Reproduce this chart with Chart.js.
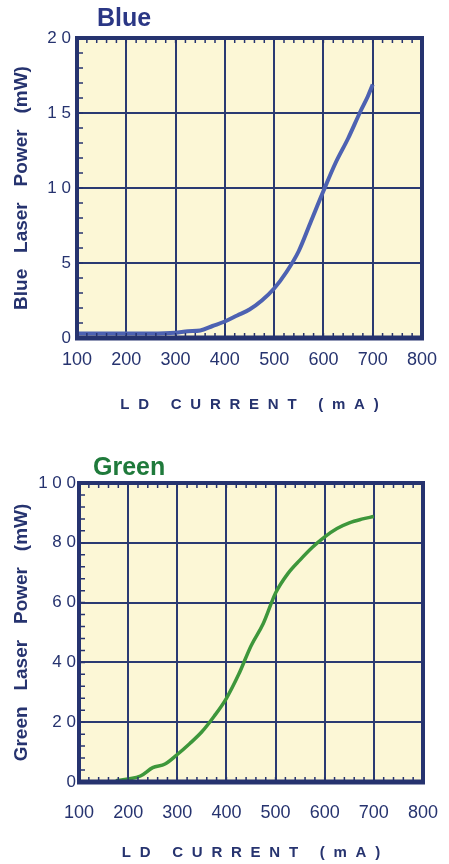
<!DOCTYPE html>
<html>
<head>
<meta charset="utf-8">
<script src="https://cdn.jsdelivr.net/npm/chart.js@4.4.0/dist/chart.umd.min.js"></script>
<style>
  html, body { margin: 0; padding: 0; background: #fff; }
  body { width: 449px; height: 864px; position: relative; overflow: hidden; }
  .panel { position: absolute; left: 0; width: 449px; }
</style>
</head>
<body>
<div class="panel" style="top:0;height:430px"><canvas id="blue" width="449" height="430"></canvas></div>
<div class="panel" style="top:440px;height:424px"><canvas id="green" width="449" height="424"></canvas></div>
<script>
// LD current (mA) vs laser power (mW)
const currentTicks = [100, 200, 300, 400, 500, 600, 700, 800];

const blueCurrent = [100, 150, 200, 250, 300, 325, 350, 375, 400, 425, 450, 475, 500, 525, 550, 575, 600, 625, 650, 675, 690, 700];
const bluePower = [0.3, 0.3, 0.3, 0.3, 0.35, 0.45, 0.5, 0.8, 1.1, 1.5, 1.9, 2.5, 3.3, 4.4, 5.8, 7.8, 9.8, 11.7, 13.3, 15.1, 16.1, 16.9];
const blueTicks = [0, 5, 10, 15, 20];

const greenCurrent = [175, 200, 225, 250, 275, 300, 325, 350, 375, 400, 425, 450, 475, 500, 525, 550, 575, 600, 625, 650, 675, 700];
const greenPower = [0.4, 1, 2, 4.8, 6, 9.2, 12.8, 16.8, 22, 28, 36, 45.5, 53, 63.2, 69.7, 74.3, 78.5, 82, 84.8, 86.7, 87.9, 88.8];
const greenTicks = [0, 20, 40, 60, 80, 100];

const NAVY = '#26336f';
const GRID = '#2a3a72';
const PAPER = '#fcf7d6';
const FONT = "'Liberation Sans', Arial, Helvetica, sans-serif";

Chart.defaults.font.family = FONT;
Chart.defaults.color = NAVY;

const spaced = (s) => String(s).split('').join(' ');

const frame = {
  id: 'frame',
  beforeDraw(chart, args, opts) {
    const { ctx, chartArea: a } = chart;
    ctx.save();
    ctx.fillStyle = PAPER;
    ctx.fillRect(a.left, a.top, a.width, a.height);
    ctx.restore();
  },
  afterDraw(chart, args, opts) {
    const { ctx, chartArea: a, scales } = chart;
    ctx.save();
    ctx.strokeStyle = NAVY;
    ctx.lineWidth = 1.5;
    ctx.beginPath();
    for (let v = currentTicks[0]; v <= currentTicks[currentTicks.length - 1]; v += 20) {
      const px = scales.x.getPixelForValue(v);
      ctx.moveTo(px, a.top);
      ctx.lineTo(px, a.top + 5);
      ctx.moveTo(px, a.bottom);
      ctx.lineTo(px, a.bottom - 5);
    }
    for (let v = scales.y.min; v <= scales.y.max; v += opts.minorY) {
      const py = scales.y.getPixelForValue(v);
      ctx.moveTo(a.left, py);
      ctx.lineTo(a.left + 6, py);
    }
    ctx.stroke();

    ctx.lineWidth = 4;
    ctx.strokeRect(a.left, a.top, a.width, a.height);
    ctx.lineWidth = 5;
    ctx.beginPath();
    ctx.moveTo(a.left - 2, a.bottom);
    ctx.lineTo(a.right + 2, a.bottom);
    ctx.stroke();

    ctx.font = 'bold 25px ' + FONT;
    ctx.fillStyle = opts.titleColor;
    ctx.textBaseline = 'alphabetic';
    ctx.fillText(opts.title, a.left + opts.titleDx, opts.titleY);
    ctx.restore();
  },
};

function makeChart(id, cfg) {
  const points = cfg.current.map((x, i) => ({ x, y: cfg.power[i] }));
  return new Chart(document.getElementById(id), {
    type: 'line',
    data: {
      datasets: [{
        data: points,
        borderColor: cfg.lineColor,
        borderWidth: cfg.lineWidth,
        pointRadius: 0,
        cubicInterpolationMode: 'monotone',
        fill: false,
      }],
    },
    options: {
      responsive: false,
      animation: false,
      layout: { padding: cfg.padding },
      plugins: {
        legend: { display: false },
        tooltip: { enabled: false },
        frame: {
          title: cfg.title,
          titleColor: cfg.titleColor,
          titleDx: cfg.titleDx,
          titleY: cfg.titleY,
          minorY: cfg.minorY,
        },
      },
      scales: {
        x: {
          type: 'linear',
          min: currentTicks[0],
          max: currentTicks[currentTicks.length - 1],
          afterBuildTicks: (scale) => { scale.ticks = currentTicks.map((value) => ({ value })); },
          afterFit: (scale) => { scale.height = cfg.xHeight; },
          // invisible tick marks just push the labels down
          grid: { color: GRID, lineWidth: 2, drawTicks: true, tickLength: cfg.xTickLen, tickColor: 'rgba(0,0,0,0)' },
          border: { display: false },
          ticks: { padding: cfg.xTickPad, font: { size: 18 }, color: NAVY },
          title: {
            display: true,
            text: 'LD CURRENT (mA)'.split('').join('\u2004\u2005'),
            font: { size: 15, weight: 'bold' },
            color: NAVY,
            padding: { top: 0, bottom: cfg.xTitlePad },
          },
        },
        y: {
          min: cfg.yTicks[0],
          max: cfg.yTicks[cfg.yTicks.length - 1],
          afterBuildTicks: (scale) => { scale.ticks = cfg.yTicks.map((value) => ({ value })); },
          afterFit: (scale) => { scale.width = cfg.yWidth; },
          grid: { color: GRID, lineWidth: 2, drawTicks: false },
          border: { display: false },
          ticks: { padding: cfg.yTickPad, font: { size: 17 }, color: NAVY, callback: (v) => spaced(v) },
          title: {
            display: true,
            text: cfg.yTitle,
            font: { size: 19, weight: 'bold' },
            color: NAVY,
            padding: 10,
          },
        },
      },
    },
    plugins: [frame],
  });
}

makeChart('blue', {
  current: blueCurrent,
  power: bluePower,
  yTicks: blueTicks,
  minorY: 1,
  lineColor: '#4d62b2',
  lineWidth: 4,
  title: 'Blue',
  titleColor: '#2b3785',
  titleDx: 20,
  titleY: 26,
  yTitle: 'Blue   Laser   Power   (mW)',
  padding: { top: 38, right: 27, left: 0, bottom: 0 },
  xHeight: 92,
  yWidth: 77,
  xTickLen: 4,
  xTickPad: 7,
  yTickPad: 6,
  xTitlePad: 16,
});

makeChart('green', {
  current: greenCurrent,
  power: greenPower,
  yTicks: greenTicks,
  minorY: 4,
  lineColor: '#3e973b',
  lineWidth: 3.5,
  title: 'Green',
  titleColor: '#1f7a3b',
  titleDx: 14,
  titleY: 35,
  yTitle: 'Green   Laser   Power   (mW)',
  padding: { top: 43, right: 26, left: 0, bottom: 0 },
  xHeight: 82,
  yWidth: 79,
  xTickLen: 12,
  xTickPad: 8,
  yTickPad: 3,
  xTitlePad: 2,
});
</script>
</body>
</html>
